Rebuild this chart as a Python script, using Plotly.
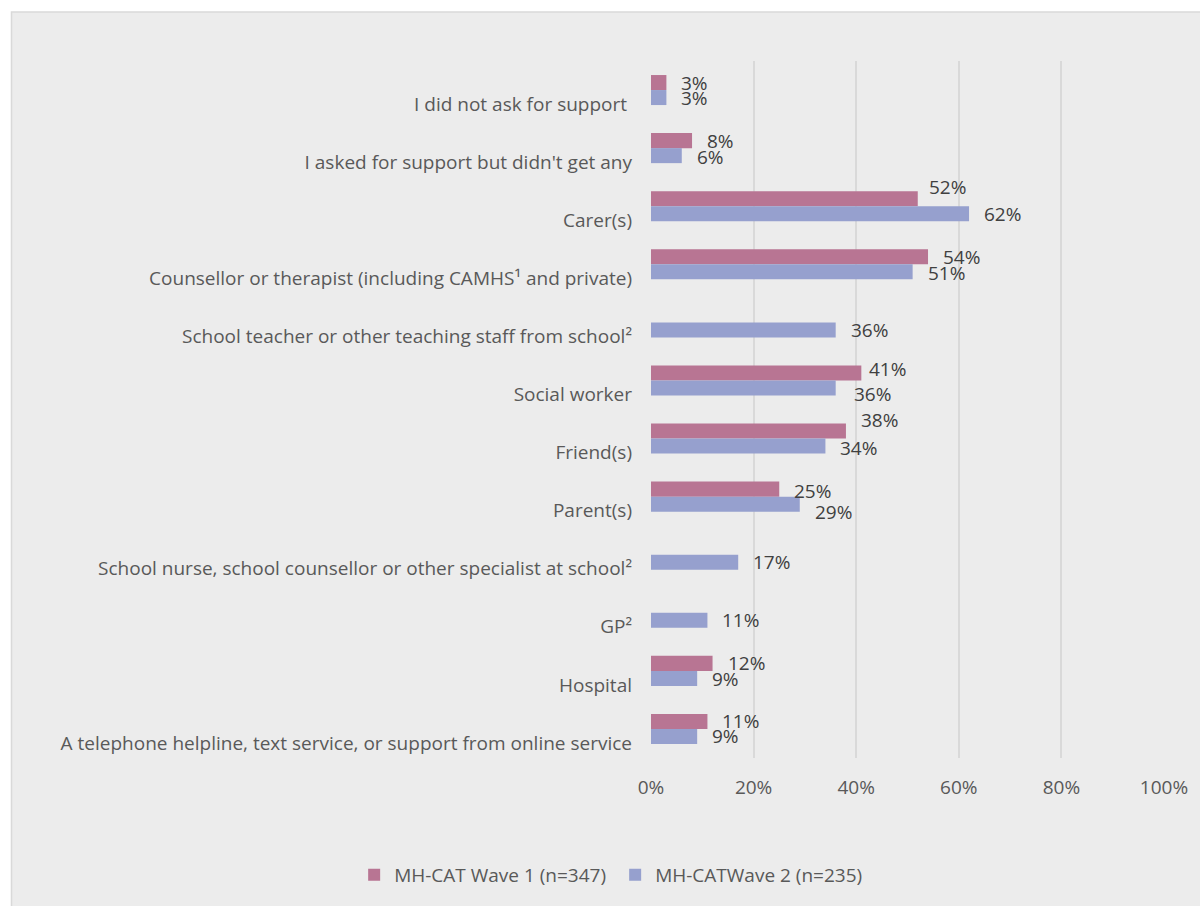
import plotly.graph_objects as go

# Sources of support reported, by survey wave (percent of respondents)
categories = [
    "I did not ask for support ",
    "I asked for support but didn't get any",
    "Carer(s)",
    "Counsellor or therapist (including CAMHS¹ and private)",
    "School teacher or other teaching staff from school²",
    "Social worker",
    "Friend(s)",
    "Parent(s)",
    "School nurse, school counsellor or other specialist at school²",
    "GP²",
    "Hospital",
    "A telephone helpline, text service, or support from online service",
]
wave1_name = "MH-CAT Wave 1 (n=347)"
wave2_name = "MH-CATWave 2 (n=235)"
wave1 = [3, 8, 52, 54, None, 41, 38, 25, None, None, 12, 11]
wave2 = [3, 6, 62, 51, 36, 36, 34, 29, 17, 11, 9, 9]
x_ticks = [0, 20, 40, 60, 80, 100]
x_tick_labels = ["0%", "20%", "40%", "60%", "80%", "100%"]

PINK = "#B87593"
BLUE = "#96A0CE"
TEXT = "#595959"
LABEL = "#404040"
GRID = "#D9D9D9"
FONT = "Open Sans"
FS = 19

# Figure geometry (pixels)
W, H = 1200, 906
L, R, T, B = 651, 34, 61, 148
PW, PH = W - L - R, H - T - B

fig = go.Figure()
fig.add_trace(go.Bar(y=categories, x=wave1, name=wave1_name, orientation="h",
                     marker=dict(color=PINK, line=dict(width=0))))
fig.add_trace(go.Bar(y=categories, x=wave2, name=wave2_name, orientation="h",
                     marker=dict(color=BLUE, line=dict(width=0))))

# Value labels: placed right of each bar end, with small nudges where labels crowd
BAR_PX = PH / len(categories) * (1 - 0.483) / 2
nudge = {  # (series index, category index): (dx, dy) in px, dy positive = up
    (0, 2): (-4, 12),
    (0, 5): (-7, 4),
    (1, 5): (3, -6),
    (0, 6): (0, 11),
    (1, 6): (0, -2),
    (0, 7): (0, -2),
    (1, 7): (0, -8),
    (1, 3): (0, -1),
    (1, 1): (0, -1),
    (1, 10): (0, -1),
}
for s, values in enumerate([wave1, wave2]):
    base_dy = BAR_PX / 2 if s == 0 else -BAR_PX / 2
    for i, v in enumerate(values):
        if v is None:
            continue
        dx, dy = nudge.get((s, i), (0, 0))
        fig.add_annotation(x=v, y=categories[i], xref="x", yref="y",
                           text=f"{v}%", showarrow=False,
                           xanchor="left", yanchor="middle",
                           xshift=13 + dx, yshift=base_dy + dy,
                           font=dict(family=FONT, size=FS, color=LABEL))

# Chart-area panel with a thin border
def px_to_paper_x(px):
    return (px - L) / PW

def px_to_paper_y(py):
    return (H - B - py) / PH

fig.add_shape(type="rect", xref="paper", yref="paper", layer="below",
              x0=px_to_paper_x(9), x1=px_to_paper_x(1215),
              y0=px_to_paper_y(925), y1=px_to_paper_y(12),
              fillcolor="#ECECEC", line=dict(color=GRID, width=1.5))

fig.update_layout(
    width=W, height=H,
    margin=dict(l=L, r=R, t=T, b=B, pad=0),
    paper_bgcolor="white",
    plot_bgcolor="rgba(0,0,0,0)",
    barmode="group",
    bargap=0.483,
    bargroupgap=0,
    font=dict(family=FONT, size=FS, color=TEXT),
    showlegend=True,
    legend=dict(orientation="h", x=px_to_paper_x(353), xanchor="left",
                y=px_to_paper_y(875), yanchor="middle",
                entrywidth=216, entrywidthmode="pixels",
                font=dict(family=FONT, size=FS, color=TEXT),
                bgcolor="rgba(0,0,0,0)", traceorder="normal"),
    xaxis=dict(range=[0, 100], tickvals=x_ticks, ticktext=x_tick_labels,
               showgrid=True, gridcolor=GRID, gridwidth=1.5,
               zeroline=False, showline=False, ticks="",
               ticklabelstandoff=16,
               tickfont=dict(family=FONT, size=FS, color=TEXT)),
    yaxis=dict(type="category", categoryorder="array", categoryarray=categories,
               range=[len(categories) - 0.5, -0.5],
               showgrid=False, zeroline=False, showline=False, ticks="",
               ticklabelstandoff=18, ticklabelshift=-14,
               tickfont=dict(family=FONT, size=FS, color=TEXT)),
)

fig.write_html("out.html")
